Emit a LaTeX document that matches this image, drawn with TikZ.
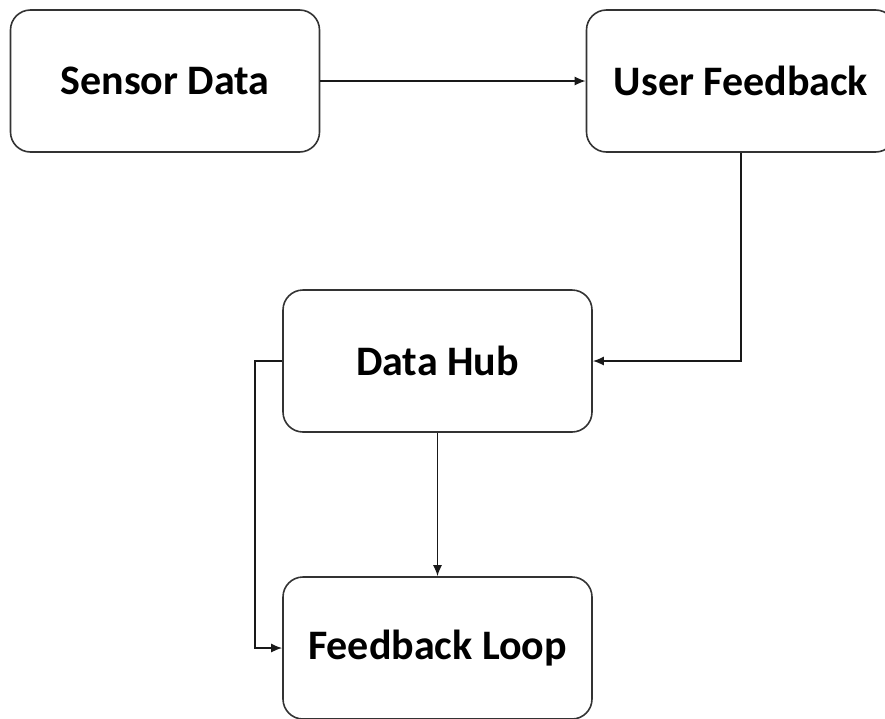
\documentclass[tikz,border=0pt]{standalone}
\usepackage{fontspec}
\setmainfont{Carlito}
\usetikzlibrary{arrows.meta}

\begin{document}
\begin{tikzpicture}[x=1pt, y=-1pt]
	\tikzstyle{block} = [rectangle, rounded corners=20pt, draw=black!80, line width=1.6pt, minimum width=309pt, minimum height=142pt, inner sep=0pt, font=\fontsize{42}{50}\selectfont\bfseries]
	\tikzstyle{link} = [draw, line width=1.6pt, black!90, arrows={-Latex[length=11pt,width=9pt]}]

	\useasboundingbox (0,0) rectangle (885,718);

%----------top row------------------------------
	\node[block] (sd) at (165,81) {Sensor Data};
	\node[block] (uf) at (741,81) {User Feedback};

	\draw[link] (sd) -- (uf);

%------------------------------------------------------------
	\node[block] (dh) at (437.5,361) {Data Hub};
	\node[block] (fl) at (437.5,648) {Feedback Loop};

	\draw[link] (uf.south) |- (dh.east);
	\draw[link] (dh) -- (fl);
	\draw[link] (dh.west) -- ++(-27,0) |- (fl.west);

\end{tikzpicture}
\end{document}
